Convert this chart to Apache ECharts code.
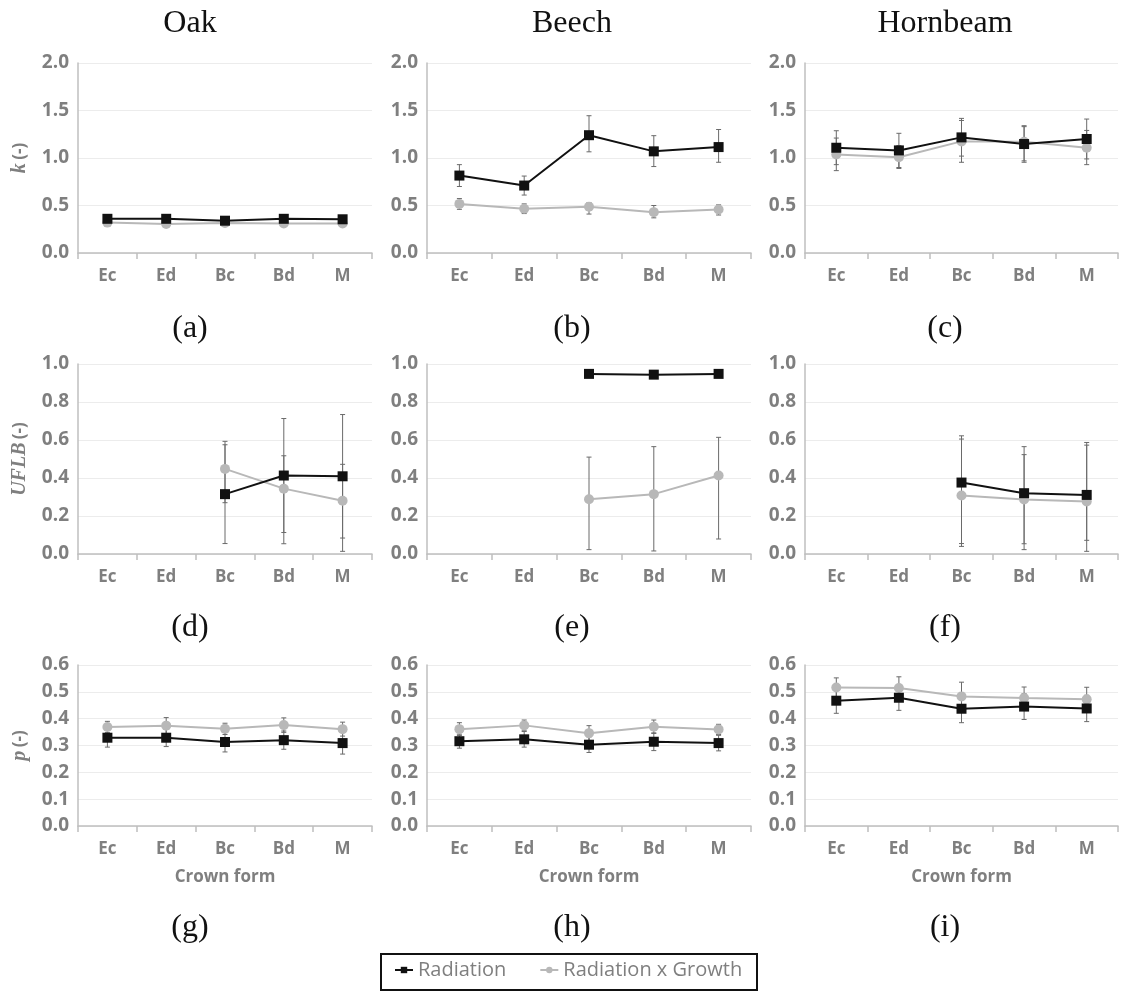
<!DOCTYPE html>
<html><head><meta charset="utf-8">
<script src="https://cdn.jsdelivr.net/npm/echarts@6/dist/echarts.min.js"></script>
<style>html,body{margin:0;padding:0;background:#fff}#c{width:1126px;height:993px}</style>
</head><body><div id="c"></div>
<script>
// ---------- DATA ----------
const categories = ['Ec', 'Ed', 'Bc', 'Bd', 'M'];
const species = ['Oak', 'Beech', 'Hornbeam'];
const panelLabels = ['(a)', '(b)', '(c)', '(d)', '(e)', '(f)', '(g)', '(h)', '(i)'];
const seriesNames = ['Radiation', 'Radiation x Growth'];
const xAxisTitle = 'Crown form';

// k (-)
const kOakRad = [0.36, 0.36, 0.34, 0.36, 0.355];
const kOakRadLo = [0.345, 0.345, 0.325, 0.345, 0.34];
const kOakRadHi = [0.375, 0.375, 0.355, 0.375, 0.37];
const kOakGro = [0.32, 0.305, 0.315, 0.31, 0.31];
const kOakGroLo = [0.305, 0.29, 0.30, 0.295, 0.295];
const kOakGroHi = [0.335, 0.32, 0.33, 0.325, 0.325];

const kBeechRad = [0.815, 0.71, 1.24, 1.07, 1.115];
const kBeechRadLo = [0.70, 0.61, 1.065, 0.91, 0.955];
const kBeechRadHi = [0.93, 0.81, 1.445, 1.235, 1.30];
const kBeechGro = [0.517, 0.465, 0.486, 0.43, 0.458];
const kBeechGroLo = [0.46, 0.415, 0.41, 0.37, 0.40];
const kBeechGroHi = [0.573, 0.517, 0.53, 0.50, 0.507];

const kHornRad = [1.108, 1.08, 1.217, 1.147, 1.2];
const kHornRadLo = [0.93, 0.90, 1.02, 0.955, 0.99];
const kHornRadHi = [1.287, 1.26, 1.417, 1.34, 1.41];
const kHornGro = [1.038, 1.007, 1.175, 1.17, 1.108];
const kHornGroLo = [0.867, 0.89, 0.955, 0.97, 0.93];
const kHornGroHi = [1.21, 1.13, 1.395, 1.33, 1.29];

// UFLB (-)
const uOakRad = [null, null, 0.315, 0.413, 0.409];
const uOakRadLo = [null, null, 0.055, 0.113, 0.084];
const uOakRadHi = [null, null, 0.575, 0.713, 0.734];
const uOakGro = [null, null, 0.448, 0.344, 0.28];
const uOakGroLo = [null, null, 0.27, 0.054, 0.014];
const uOakGroHi = [null, null, 0.593, 0.517, 0.472];

const uBeechRad = [null, null, 0.948, 0.944, 0.948];
const uBeechRadLo = [null, null, 0.938, 0.934, 0.938];
const uBeechRadHi = [null, null, 0.958, 0.954, 0.958];
const uBeechGro = [null, null, 0.288, 0.315, 0.413];
const uBeechGroLo = [null, null, 0.023, 0.016, 0.079];
const uBeechGroHi = [null, null, 0.51, 0.565, 0.614];

const uHornRad = [null, null, 0.376, 0.32, 0.311];
const uHornRadLo = [null, null, 0.04, 0.054, 0.072];
const uHornRadHi = [null, null, 0.622, 0.565, 0.587];
const uHornGro = [null, null, 0.308, 0.287, 0.276];
const uHornGroLo = [null, null, 0.055, 0.023, 0.014];
const uHornGroHi = [null, null, 0.605, 0.523, 0.573];

// p (-)
const pOakRad = [0.329, 0.329, 0.313, 0.32, 0.309];
const pOakRadLo = [0.294, 0.296, 0.276, 0.286, 0.268];
const pOakRadHi = [0.364, 0.362, 0.35, 0.354, 0.35];
const pOakGro = [0.369, 0.374, 0.362, 0.376, 0.361];
const pOakGroLo = [0.348, 0.344, 0.341, 0.349, 0.335];
const pOakGroHi = [0.39, 0.404, 0.383, 0.403, 0.387];

const pBeechRad = [0.316, 0.323, 0.303, 0.314, 0.309];
const pBeechRadLo = [0.29, 0.294, 0.274, 0.281, 0.28];
const pBeechRadHi = [0.342, 0.352, 0.332, 0.347, 0.338];
const pBeechGro = [0.361, 0.375, 0.346, 0.37, 0.36];
const pBeechGroLo = [0.337, 0.355, 0.318, 0.345, 0.341];
const pBeechGroHi = [0.385, 0.395, 0.374, 0.395, 0.379];

const pHornRad = [0.467, 0.478, 0.437, 0.445, 0.438];
const pHornRadLo = [0.42, 0.431, 0.385, 0.397, 0.389];
const pHornRadHi = [0.514, 0.525, 0.489, 0.493, 0.487];
const pHornGro = [0.516, 0.514, 0.483, 0.477, 0.472];
const pHornGroLo = [0.48, 0.472, 0.43, 0.436, 0.427];
const pHornGroHi = [0.552, 0.556, 0.536, 0.518, 0.517];

// y axis scales per row: [min, max, interval]
const kScale = [0, 2.0, 0.5];
const uScale = [0, 1.0, 0.2];
const pScale = [0, 0.6, 0.1];

// ---------- PANELS ----------
const panels = [
  [kOakRad, kOakRadLo, kOakRadHi, kOakGro, kOakGroLo, kOakGroHi],
  [kBeechRad, kBeechRadLo, kBeechRadHi, kBeechGro, kBeechGroLo, kBeechGroHi],
  [kHornRad, kHornRadLo, kHornRadHi, kHornGro, kHornGroLo, kHornGroHi],
  [uOakRad, uOakRadLo, uOakRadHi, uOakGro, uOakGroLo, uOakGroHi],
  [uBeechRad, uBeechRadLo, uBeechRadHi, uBeechGro, uBeechGroLo, uBeechGroHi],
  [uHornRad, uHornRadLo, uHornRadHi, uHornGro, uHornGroLo, uHornGroHi],
  [pOakRad, pOakRadLo, pOakRadHi, pOakGro, pOakGroLo, pOakGroHi],
  [pBeechRad, pBeechRadLo, pBeechRadHi, pBeechGro, pBeechGroLo, pBeechGroHi],
  [pHornRad, pHornRadLo, pHornRadHi, pHornGro, pHornGroLo, pHornGroHi]
];
const rowScales = [kScale, uScale, pScale];

// ---------- LAYOUT ----------
const colLeft = [78, 427, 805];
const colRight = [372, 751, 1118];
const rowTop = [63, 364, 665];
const rowBottom = [253, 554, 826];
const titleX = [190, 572, 945];
const titleY = 24;
const labelY = [329, 628, 928];

const GREY = '#7f7f7f';
const AXIS = '#bfbfbf';
const SANS = '"Open Sans", "Liberation Sans", sans-serif';
const SERIF = '"Liberation Serif", "Times New Roman", serif';

const yNames = [
  '{i|k} {n|(-)}',
  '{i|UFLB} {n|(-)}',
  '{i|p} {n|(-)}'
];

const grid = [], xAxis = [], yAxis = [], series = [];

function errItem(params, api) {
  const x = api.value(0), lo = api.value(1), hi = api.value(2);
  const p1 = api.coord([x, lo]), p2 = api.coord([x, hi]);
  const w = 2.5;
  const st = { stroke: '#6a6a6a', lineWidth: 1 };
  return {
    type: 'group',
    children: [
      { type: 'line', shape: { x1: p1[0], y1: p1[1], x2: p2[0], y2: p2[1] }, style: st },
      { type: 'line', shape: { x1: p1[0] - w, y1: p1[1], x2: p1[0] + w, y2: p1[1] }, style: st },
      { type: 'line', shape: { x1: p2[0] - w, y1: p2[1], x2: p2[0] + w, y2: p2[1] }, style: st }
    ]
  };
}
function errData(lo, hi) {
  const out = [];
  lo.forEach((v, i) => { if (v != null) out.push([i, v, hi[i]]); });
  return out;
}

for (let r = 0; r < 3; r++) {
  for (let c = 0; c < 3; c++) {
    const idx = r * 3 + c;
    const sc = rowScales[r];
    grid.push({
      left: colLeft[c], top: rowTop[r],
      width: colRight[c] - colLeft[c], height: rowBottom[r] - rowTop[r],
      containLabel: false
    });
    xAxis.push({
      type: 'category', gridIndex: idx, data: categories, boundaryGap: true,
      axisLine: { lineStyle: { color: AXIS, width: 1.5 } },
      axisTick: { show: true, length: 6, lineStyle: { color: AXIS, width: 1.5 } },
      axisLabel: { color: GREY, fontWeight: 'bold', fontSize: 17, fontFamily: SANS, margin: 15 },
      splitLine: { show: false },
      name: r === 2 ? xAxisTitle : '',
      nameLocation: 'middle', nameGap: 43,
      nameTextStyle: { color: GREY, fontWeight: 'bold', fontSize: 17, fontFamily: SANS }
    });
    yAxis.push({
      type: 'value', gridIndex: idx, min: sc[0], max: sc[1], interval: sc[2],
      axisLine: { show: true, lineStyle: { color: AXIS, width: 1.5 } },
      axisTick: { show: false },
      axisLabel: { color: GREY, fontWeight: 'bold', fontSize: 19, fontFamily: SANS, margin: 9,
        formatter: v => v.toFixed(1) },
      splitLine: { lineStyle: { color: '#ececec', width: 1 } },
      name: c === 0 ? yNames[r] : '',
      nameLocation: 'middle', nameGap: 48,
      nameTextStyle: {
        rich: {
          i: { fontFamily: SERIF, fontStyle: 'italic', fontWeight: 'bold', fontSize: 20, color: GREY },
          n: { fontFamily: SANS, fontWeight: 'bold', fontSize: 17, color: GREY }
        }
      }
    });
    const d = panels[idx];
    series.push({
      type: 'custom', name: 'errRad' + idx, xAxisIndex: idx, yAxisIndex: idx,
      renderItem: errItem, data: errData(d[1], d[2]), encode: { x: 0, y: [1, 2] }, z: 1, silent: true
    });
    series.push({
      type: 'custom', name: 'errGro' + idx, xAxisIndex: idx, yAxisIndex: idx,
      renderItem: errItem, data: errData(d[4], d[5]), encode: { x: 0, y: [1, 2] }, z: 1, silent: true
    });
    series.push({
      type: 'line', name: seriesNames[1], xAxisIndex: idx, yAxisIndex: idx, data: d[3],
      symbol: 'circle', symbolSize: 10, showAllSymbol: true,
      itemStyle: { color: '#b8b8b8' }, lineStyle: { color: '#b8b8b8', width: 2 }, z: 3, animation: false
    });
    series.push({
      type: 'line', name: seriesNames[0], xAxisIndex: idx, yAxisIndex: idx, data: d[0],
      symbol: 'rect', symbolSize: 10, showAllSymbol: true,
      itemStyle: { color: '#111' }, lineStyle: { color: '#111', width: 2 }, z: 4, animation: false
    });
  }
}

const graphic = [];
species.forEach((s, i) => graphic.push({
  type: 'text', x: titleX[i], y: titleY,
  style: { text: s, font: '32px ' + SERIF, fill: '#111', textAlign: 'center', textVerticalAlign: 'middle' }
}));
panelLabels.forEach((s, i) => graphic.push({
  type: 'text', x: titleX[i % 3], y: labelY[Math.floor(i / 3)],
  style: { text: s, font: '32px ' + SERIF, fill: '#111', textAlign: 'center', textVerticalAlign: 'middle' }
}));
graphic.push({
  type: 'rect', shape: { x: 381, y: 954, width: 376, height: 36 },
  style: { fill: 'none', stroke: '#111', lineWidth: 2 }
});

const chart = echarts.init(document.getElementById('c'), null, { renderer: 'canvas' });
chart.setOption({
  backgroundColor: '#fff',
  animation: false,
  grid, xAxis, yAxis, series, graphic,
  legend: {
    data: seriesNames, left: 394, top: 960, padding: 0,
    itemWidth: 18, itemHeight: 8, itemGap: 33,
    textStyle: { color: GREY, fontSize: 20, fontFamily: SANS }
  }
});
</script>
</body></html>
